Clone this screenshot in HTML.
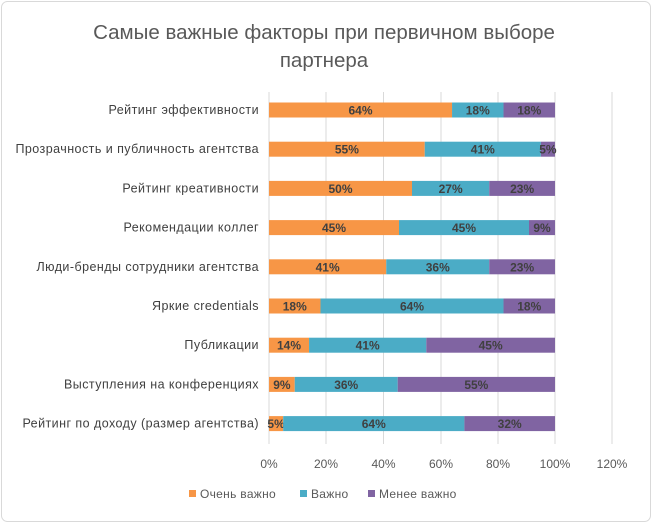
<!DOCTYPE html>
<html><head><meta charset="utf-8"><style>
body{margin:0;background:#fff}
svg{display:block;font-family:"Liberation Sans","DejaVu Sans",sans-serif}
</style></head><body>
<svg width="652" height="523" viewBox="0 0 652 523">
<rect x="1.5" y="1.5" width="649" height="520" rx="6" fill="#fff" stroke="#d9d9d9"/>
<text x="324" y="39" font-size="20.5" fill="#595959" text-anchor="middle">Самые важные факторы при первичном выборе</text>
<text x="324" y="67" font-size="20.5" fill="#595959" text-anchor="middle">партнера</text>
<g stroke="#d9d9d9" stroke-width="1">
<line x1="269" y1="92" x2="269" y2="444"/><line x1="326" y1="92" x2="326" y2="444"/><line x1="383.5" y1="92" x2="383.5" y2="444"/><line x1="441" y1="92" x2="441" y2="444"/><line x1="498" y1="92" x2="498" y2="444"/><line x1="555" y1="92" x2="555" y2="444"/><line x1="612" y1="92" x2="612" y2="444"/>
</g>
<g font-size="12" fill="#595959" text-anchor="middle">
<text x="269" y="468">0%</text><text x="326" y="468">20%</text><text x="383.5" y="468">40%</text><text x="441" y="468">60%</text><text x="498" y="468">80%</text><text x="555" y="468">100%</text><text x="612" y="468">120%</text>
</g>
<g id="bars" font-size="12" font-weight="bold" fill="#404040" text-anchor="middle"></g>
<g font-size="12" fill="#595959">
<rect x="189" y="490" width="7" height="7" fill="#F79646"/><text x="200" y="498" letter-spacing="0.3">Очень важно</text>
<rect x="300" y="490" width="7" height="7" fill="#4BACC6"/><text x="311" y="498" letter-spacing="0.3">Важно</text>
<rect x="368" y="490" width="7" height="7" fill="#8064A2"/><text x="379" y="498" letter-spacing="0.3">Менее важно</text>
</g>
</svg>
<script>
var d=[["Рейтинг эффективности",64,18,18],["Прозрачность и публичность агентства",55,41,5],["Рейтинг креативности",50,27,23],["Рекомендации коллег",45,45,9],["Люди-бренды сотрудники агентства",41,36,23],["Яркие credentials",18,64,18],["Публикации",14,41,45],["Выступления на конференциях",9,36,55],["Рейтинг по доходу (размер агентства)",5,64,32]];
var c=["#F79646","#4BACC6","#8064A2"],g=document.getElementById("bars"),h="";
d.forEach(function(r,i){var cy=110+i*39.2,t=r[1]+r[2]+r[3],x=269,w=286;
h+='<text x="259" y="'+(cy+4)+'" font-size="12.5" letter-spacing="0.45" font-weight="normal" fill="#404040" text-anchor="end">'+r[0]+'</text>';
for(var k=0;k<3;k++){var bw=w*r[k+1]/t;h+='<rect x="'+x+'" y="'+(cy-7.5)+'" width="'+bw+'" height="15" fill="'+c[k]+'"/>';h+='<text x="'+(x+bw/2)+'" y="'+(cy+4.5)+'">'+r[k+1]+'%</text>';x+=bw;}});
g.innerHTML=h;
</script>
</body></html>
